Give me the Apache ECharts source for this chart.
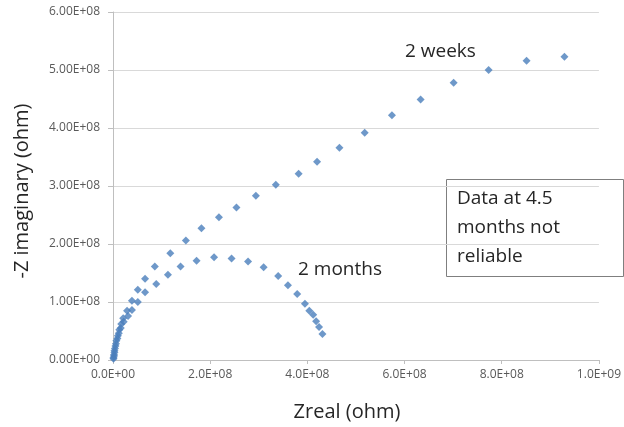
<!DOCTYPE html>
<html>
<head>
<meta charset="utf-8">
<script src="https://cdn.jsdelivr.net/npm/echarts@6/dist/echarts.min.js"></script>
<style>
html,body{margin:0;padding:0;background:#fff;}
#c{width:624px;height:427px;}
</style>
</head>
<body>
<div id="c"></div>
<script>
// 2 weeks series: Zreal (ohm), -Z imaginary (ohm)
var weeks2Real = [0.001e9,0.002e9,0.003e9,0.005e9,0.007e9,0.010e9,0.013e9,0.017e9,0.021e9,0.029e9,0.039e9,0.051e9,0.066e9,0.086e9,0.118e9,0.150e9,0.182e9,0.218e9,0.254e9,0.294e9,0.335e9,0.382e9,0.420e9,0.466e9,0.518e9,0.574e9,0.633e9,0.701e9,0.773e9,0.851e9,0.929e9];
var weeks2Imag = [0.04e8,0.09e8,0.16e8,0.24e8,0.33e8,0.42e8,0.52e8,0.62e8,0.72e8,0.85e8,1.02e8,1.21e8,1.40e8,1.61e8,1.84e8,2.06e8,2.27e8,2.46e8,2.63e8,2.83e8,3.02e8,3.21e8,3.42e8,3.66e8,3.92e8,4.22e8,4.49e8,4.78e8,5.00e8,5.16e8,5.23e8];
// 2 months series
var months2Real = [0.001e9,0.002e9,0.003e9,0.004e9,0.006e9,0.009e9,0.012e9,0.016e9,0.022e9,0.031e9,0.039e9,0.051e9,0.066e9,0.089e9,0.113e9,0.139e9,0.172e9,0.208e9,0.244e9,0.278e9,0.310e9,0.340e9,0.360e9,0.379e9,0.395e9,0.404e9,0.412e9,0.418e9,0.424e9,0.431e9];
var months2Imag = [0.02e8,0.07e8,0.13e8,0.20e8,0.28e8,0.37e8,0.46e8,0.55e8,0.66e8,0.76e8,0.86e8,1.00e8,1.17e8,1.31e8,1.47e8,1.61e8,1.71e8,1.77e8,1.75e8,1.70e8,1.60e8,1.45e8,1.29e8,1.14e8,0.97e8,0.85e8,0.78e8,0.67e8,0.57e8,0.45e8];
// tick labels
var xTickLabels = ['0.0E+00','2.0E+08','4.0E+08','6.0E+08','8.0E+08','1.0E+09'];
var yTickLabels = ['0.00E+00','1.00E+08','2.00E+08','3.00E+08','4.00E+08','5.00E+08','6.00E+08'];
var xTitle = 'Zreal (ohm)';
var yTitle = '-Z imaginary (ohm)';
var noteWeeks = '2 weeks';
var noteMonths = '2 months';
var noteBox = 'Data at 4.5\nmonths not\nreliable';

function pairs(a, b){ return a.map(function(v,i){ return [v, b[i]]; }); }

var FONT = '"Open Sans", sans-serif';
var chart = echarts.init(document.getElementById('c'), null, {renderer:'canvas'});
chart.setOption({
  animation:false,
  backgroundColor:'#ffffff',
  grid:{left:113, right:21, top:12, bottom:67, containLabel:false},
  xAxis:{
    type:'value', min:0, max:1e9, interval:2e8,
    axisLine:{show:true, lineStyle:{color:'#bfbfbf', width:1}},
    axisTick:{show:true, length:4, lineStyle:{color:'#bfbfbf'}},
    splitLine:{show:false},
    axisLabel:{color:'#595959', fontSize:12, fontFamily:FONT, margin:9,
      formatter:function(v){ return xTickLabels[Math.round(v/2e8)]; }}
  },
  yAxis:{
    type:'value', min:0, max:6e8, interval:1e8,
    axisLine:{show:true, lineStyle:{color:'#bfbfbf', width:1}},
    axisTick:{show:true, length:5, lineStyle:{color:'#bfbfbf'}},
    splitLine:{show:true, lineStyle:{color:'#d9d9d9', width:1}},
    axisLabel:{color:'#595959', fontSize:12, fontFamily:FONT, margin:13,
      formatter:function(v){ return yTickLabels[Math.round(v/1e8)]; }}
  },
  series:[
    {type:'scatter', name:'2 weeks', data:pairs(weeks2Real, weeks2Imag), symbol:'diamond', symbolSize:8,
     itemStyle:{color:'#4A7EBB'}},
    {type:'scatter', name:'2 months', data:pairs(months2Real, months2Imag), symbol:'diamond', symbolSize:8,
     itemStyle:{color:'#4A7EBB'}}
  ],
  graphic:[
    {type:'text', x:347, y:412, style:{text:xTitle, font:'20px '+FONT, fill:'#262626', align:'center', verticalAlign:'middle'}},
    {type:'text', x:22, y:191, rotation:Math.PI/2, style:{text:yTitle, font:'20px '+FONT, fill:'#262626', align:'center', verticalAlign:'middle'}},
    {type:'text', x:405, y:52, style:{text:noteWeeks, font:'19px '+FONT, fill:'#262626', align:'left', verticalAlign:'middle'}},
    {type:'text', x:298, y:270, style:{text:noteMonths, font:'19px '+FONT, fill:'#262626', align:'left', verticalAlign:'middle'}},
    {type:'rect', shape:{x:446.5, y:179.5, width:177, height:97}, style:{fill:null, stroke:'#7f7f7f', lineWidth:1}},
    {type:'text', x:457, y:184, style:{text:noteBox, font:'19px '+FONT, fill:'#262626', align:'left', verticalAlign:'top', lineHeight:29}}
  ]
});
</script>
</body>
</html>
